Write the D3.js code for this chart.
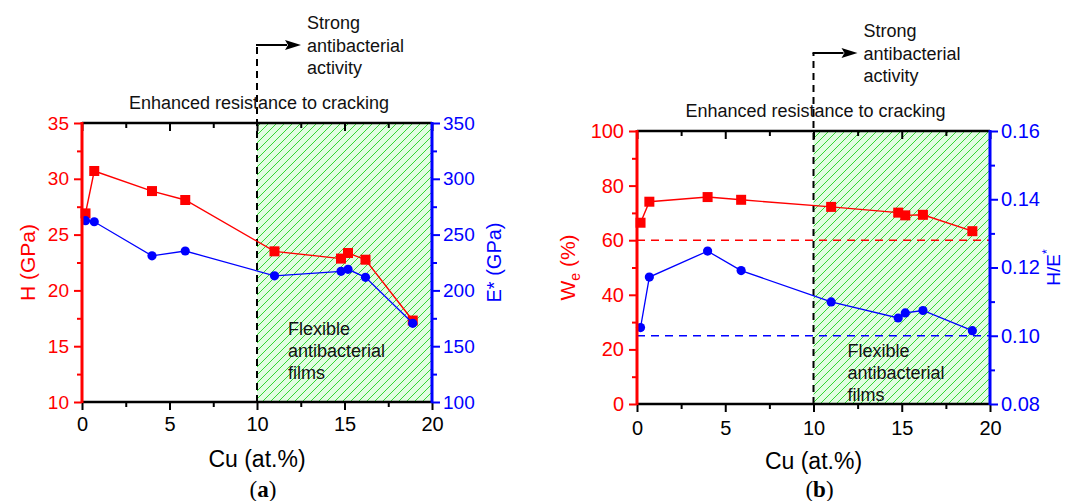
<!DOCTYPE html>
<html>
<head>
<meta charset="utf-8">
<script src="https://cdn.jsdelivr.net/npm/d3@7"></script>
<style>
body{margin:0;background:#fff;}
svg{display:block;font-family:"Liberation Sans",Arial,sans-serif;}
</style>
</head>
<body>
<div id="graph"></div>
<script>
//Cu content (at.%) of the films, panel (a) and (b)
const cu_a = [0.2, 0.7, 4.0, 5.9, 11.0, 14.8, 15.2, 16.2, 18.9];
const cu_b = [0.2, 0.7, 4.0, 5.9, 11.0, 14.8, 15.2, 16.2, 19.0];
//Panel (a): hardness H (GPa) and effective modulus E* (GPa)
const hardness = [26.9, 30.7, 28.9, 28.1, 23.5, 22.85, 23.35, 22.75, 17.3];
const modulus = [262.5, 261.5, 231.0, 235.3, 213.1, 217.1, 218.9, 211.7, 170.5];
//Panel (b): elastic recovery We (%) and H/E*
const recovery = [66.4, 74.1, 75.8, 74.8, 72.2, 70.1, 69.1, 69.3, 63.3];
const h_over_e = [0.1024, 0.1172, 0.1248, 0.1191, 0.1099, 0.1052, 0.1067, 0.1074, 0.1015];

//tick values
const x_ticks = [0, 5, 10, 15, 20];
const h_ticks = [10, 15, 20, 25, 30, 35];
const e_ticks = [100, 150, 200, 250, 300, 350];
const we_ticks = [0, 20, 40, 60, 80, 100];
const he_ticks = [0.08, 0.10, 0.12, 0.14, 0.16];

//reference levels / region start
const we_ref = 60;
const he_ref = 0.10;
const film_start = 10;

const RED = '#ff0000';
const BLUE = '#0000ff';
const FONT = 'Liberation Sans, Arial, sans-serif';

const svg = d3.select('#graph')
              .append('svg')
              .attr('width', 1065)
              .attr('height', 501);

//hatch pattern for the "flexible antibacterial films" region
const defs = svg.append('defs');
const pat = defs.append('pattern')
                .attr('id', 'hatch')
                .attr('patternUnits', 'userSpaceOnUse')
                .attr('width', 8)
                .attr('height', 8);
pat.append('rect').attr('width', 8).attr('height', 8).attr('fill', '#e1fde1');
pat.append('path')
   .attr('d', 'M-2,2 l4,-4 M0,8 l8,-8 M6,10 l4,-4')
   .attr('stroke', '#33d633')
   .attr('stroke-width', 1);

//minor ticks halfway between the majors
function minors(ticks){
    let out = [];
    for(let i = 0; i < ticks.length - 1; i++){
        out.push((ticks[i] + ticks[i + 1]) / 2);
    }
    return out;
}

function draw_panel(opt){
    const g = svg.append('g');
    const x = d3.scaleLinear().domain([0, 20]).range([opt.x0, opt.x1]);
    const yl = d3.scaleLinear().domain(d3.extent(opt.left_ticks)).range([opt.yBot, opt.yTop]);
    const yr = d3.scaleLinear().domain(d3.extent(opt.right_ticks)).range([opt.yBot, opt.yTop]);
    const x10 = x(film_start);
    const arrowY = opt.yTop - 78;

    //shaded region
    g.append('rect')
     .attr('x', x10).attr('y', opt.yTop)
     .attr('width', x(20) - x10).attr('height', opt.yBot - opt.yTop)
     .attr('fill', 'url(#hatch)');

    //reference dashed lines (panel b only)
    (opt.refs || []).forEach((r) => {
        const sc = r.side == 'left' ? yl : yr;
        g.append('line')
         .attr('x1', opt.x0).attr('x2', opt.x1)
         .attr('y1', sc(r.value)).attr('y2', sc(r.value))
         .attr('stroke', r.color).attr('stroke-width', 1.5)
         .attr('stroke-dasharray', '8,6');
    });

    //vertical dashed boundary + arrow
    g.append('line')
     .attr('x1', x10).attr('x2', x10)
     .attr('y1', opt.yBot).attr('y2', arrowY)
     .attr('stroke', 'black').attr('stroke-width', 2)
     .attr('stroke-dasharray', '7,5');
    g.append('line')
     .attr('x1', x10 - 1).attr('x2', x10 + 30)
     .attr('y1', arrowY).attr('y2', arrowY)
     .attr('stroke', 'black').attr('stroke-width', 2);
    g.append('path')
     .attr('d', `M${x10 + 44},${arrowY} L${x10 + 28},${arrowY - 5} L${x10 + 31},${arrowY} L${x10 + 28},${arrowY + 5} Z`)
     .attr('fill', 'black');

    //text labels
    const strong = g.append('text')
                    .attr('font-size', 18)
                    .attr('fill', '#111');
    ['Strong', 'antibacterial', 'activity'].forEach((t, i) => {
        strong.append('tspan')
              .attr('x', x10 + 50)
              .attr('y', opt.yTop - 94 + i * 22.5)
              .text(t);
    });
    g.append('text')
     .attr('x', x10 + 2)
     .attr('y', opt.yTop - 14)
     .attr('text-anchor', 'middle')
     .attr('font-size', 18)
     .attr('fill', '#111')
     .text('Enhanced resistance to cracking');
    const flex = g.append('text')
                  .attr('font-size', 18)
                  .attr('fill', '#111');
    ['Flexible', 'antibacterial', 'films'].forEach((t, i) => {
        flex.append('tspan')
            .attr('x', x10 + opt.flex_dx)
            .attr('y', opt.yBot + opt.flex_dy + i * 22)
            .text(t);
    });

    //series lines and markers
    const lineL = d3.line().x((d) => x(d[0])).y((d) => yl(d[1]));
    const lineR = d3.line().x((d) => x(d[0])).y((d) => yr(d[1]));
    const left_pts = opt.cu.map((c, i) => [c, opt.left_vals[i]]);
    const right_pts = opt.cu.map((c, i) => [c, opt.right_vals[i]]);

    g.append('path').datum(left_pts)
     .attr('d', lineL).attr('fill', 'none')
     .attr('stroke', RED).attr('stroke-width', 1.4);
    g.selectAll(null).data(left_pts).enter()
     .append('rect')
     .attr('x', (d) => x(d[0]) - 5)
     .attr('y', (d) => yl(d[1]) - 5)
     .attr('width', 10).attr('height', 10)
     .attr('fill', RED);

    g.append('path').datum(right_pts)
     .attr('d', lineR).attr('fill', 'none')
     .attr('stroke', BLUE).attr('stroke-width', 1.3);
    g.selectAll(null).data(right_pts).enter()
     .append('circle')
     .attr('cx', (d) => x(d[0]))
     .attr('cy', (d) => yr(d[1]))
     .attr('r', 4.6)
     .attr('fill', BLUE);

    //axes: majors + minors, styled after
    function add_axis(axis, tx, ty, color, cls){
        const a = g.append('g')
                   .attr('class', cls)
                   .attr('transform', `translate(${tx},${ty})`)
                   .call(axis);
        a.select('.domain').remove();
        a.selectAll('line').attr('stroke', color).attr('stroke-width', 2);
        a.selectAll('text').attr('fill', color).attr('font-family', FONT);
        return a;
    }
    //bottom
    add_axis(d3.axisBottom(x).tickValues(x_ticks).tickSize(8).tickPadding(opt.xpad)
             .tickFormat(d3.format('d')), 0, opt.yBot, 'black', 'xb')
        .selectAll('text').attr('font-size', 20);
    add_axis(d3.axisBottom(x).tickValues(minors(x_ticks)).tickSize(5).tickFormat(''), 0, opt.yBot, 'black', 'xbm');
    //top (inward)
    add_axis(d3.axisBottom(x).tickValues(x_ticks).tickSize(8).tickFormat(''), 0, opt.yTop, 'black', 'xt');
    add_axis(d3.axisBottom(x).tickValues(minors(x_ticks)).tickSize(5).tickFormat(''), 0, opt.yTop, 'black', 'xtm');
    //left
    add_axis(d3.axisLeft(yl).tickValues(opt.left_ticks).tickSize(8).tickPadding(5)
             .tickFormat(d3.format('d')), opt.x0, 0, RED, 'yl')
        .selectAll('text').attr('font-size', opt.tick_font);
    add_axis(d3.axisLeft(yl).tickValues(minors(opt.left_ticks)).tickSize(5).tickFormat(''), opt.x0, 0, RED, 'ylm');
    //right
    add_axis(d3.axisRight(yr).tickValues(opt.right_ticks).tickSize(8).tickPadding(3)
             .tickFormat(opt.right_fmt), opt.x1, 0, BLUE, 'yr')
        .selectAll('text').attr('font-size', opt.tick_font);
    add_axis(d3.axisRight(yr).tickValues(minors(opt.right_ticks)).tickSize(5).tickFormat(''), opt.x1, 0, BLUE, 'yrm');

    //axis lines on top
    g.append('line').attr('x1', opt.x0).attr('x2', opt.x1).attr('y1', opt.yTop).attr('y2', opt.yTop)
     .attr('stroke', 'black').attr('stroke-width', 2.5);
    g.append('line').attr('x1', opt.x0).attr('x2', opt.x1).attr('y1', opt.yBot).attr('y2', opt.yBot)
     .attr('stroke', 'black').attr('stroke-width', 2.5);
    g.append('line').attr('x1', opt.x0).attr('x2', opt.x0).attr('y1', opt.yTop - 1).attr('y2', opt.yBot + 1)
     .attr('stroke', RED).attr('stroke-width', 3);
    g.append('line').attr('x1', opt.x1).attr('x2', opt.x1).attr('y1', opt.yTop - 1).attr('y2', opt.yBot + 1)
     .attr('stroke', BLUE).attr('stroke-width', 3);

    //axis titles
    const midY = (opt.yTop + opt.yBot) / 2;
    g.append('text')
     .attr('x', (opt.x0 + opt.x1) / 2)
     .attr('y', opt.yBot + 65)
     .attr('text-anchor', 'middle')
     .attr('font-size', 23)
     .text('Cu (at.%)');
    const lt = g.append('text')
                .attr('transform', `translate(${opt.x0 - opt.left_title_dx},${midY}) rotate(-90)`)
                .attr('text-anchor', 'middle')
                .attr('font-size', 21)
                .attr('fill', RED);
    opt.left_title(lt);
    const rt = g.append('text')
                .attr('transform', `translate(${opt.x1 + opt.right_title_dx},${midY}) rotate(-90)`)
                .attr('text-anchor', 'middle')
                .attr('font-size', opt.right_title_font)
                .attr('fill', BLUE);
    opt.right_title(rt);

    //panel label
    const pl = g.append('text')
                .attr('x', (opt.x0 + opt.x1) / 2 + 6)
                .attr('y', 497)
                .attr('text-anchor', 'middle')
                .attr('font-family', 'Liberation Serif, DejaVu Serif, serif')
                .attr('font-size', 23);
    pl.append('tspan').text('(');
    pl.append('tspan').attr('font-weight', 'bold').text(opt.label);
    pl.append('tspan').text(')');
}

draw_panel({
    x0: 82, x1: 432, yTop: 123, yBot: 402,
    cu: cu_a,
    left_vals: hardness, right_vals: modulus,
    left_ticks: h_ticks, right_ticks: e_ticks,
    right_fmt: d3.format('d'),
    xpad: 7, tick_font: 19,
    flex_dx: 31, flex_dy: -67,
    left_title_dx: 47, right_title_dx: 69, right_title_font: 20,
    left_title: (t) => t.text('H (GPa)'),
    right_title: (t) => t.text('E* (GPa)'),
    label: 'a'
});

draw_panel({
    x0: 637, x1: 990, yTop: 131, yBot: 404,
    cu: cu_b,
    left_vals: recovery, right_vals: h_over_e,
    left_ticks: we_ticks, right_ticks: he_ticks,
    right_fmt: d3.format('.2f'),
    xpad: 9, tick_font: 20,
    flex_dx: 34, flex_dy: -47,
    refs: [{side: 'left', value: we_ref, color: RED}, {side: 'right', value: he_ref, color: BLUE}],
    left_title_dx: 62, right_title_dx: 70, right_title_font: 19,
    left_title: (t) => {
        t.append('tspan').text('W');
        t.append('tspan').attr('font-size', 14).attr('dy', 5).text('e');
        t.append('tspan').attr('dy', -5).text(' (%)');
    },
    right_title: (t) => {
        t.append('tspan').text('H/E');
        t.append('tspan').attr('font-size', 12).attr('dy', -9).text('*');
    },
    label: 'b'
});
</script>
</body>
</html>
